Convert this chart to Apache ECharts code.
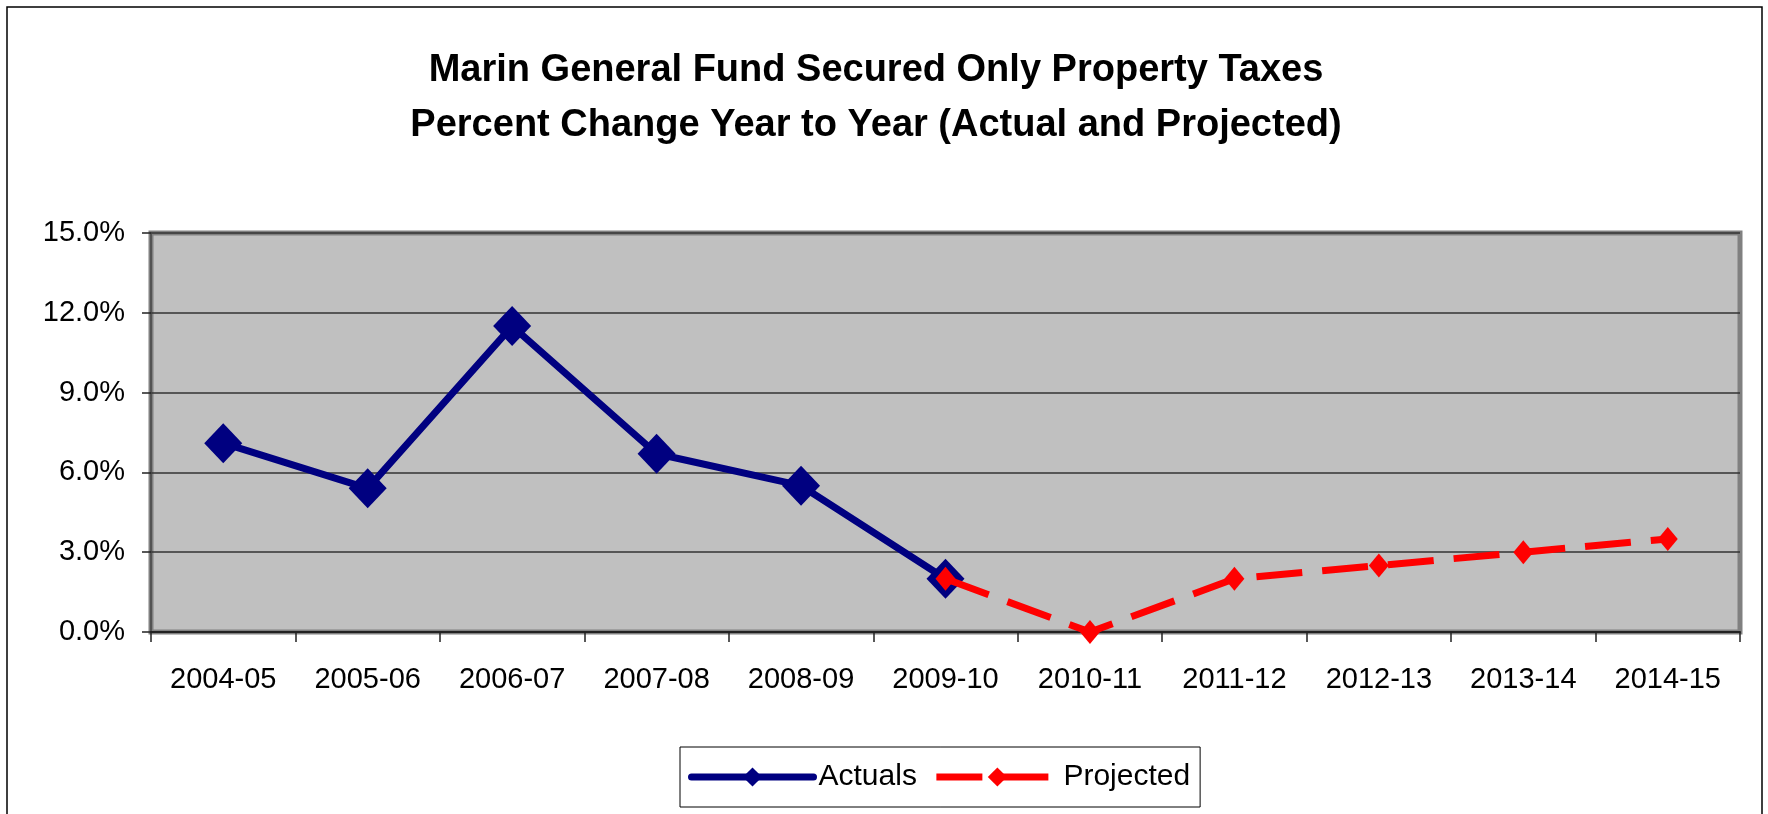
<!DOCTYPE html>
<html>
<head>
<meta charset="utf-8">
<script src="https://cdn.jsdelivr.net/npm/echarts@6/dist/echarts.min.js"></script>
<style>
  html, body { margin: 0; padding: 0; background: #fff; }
  #chart { width: 1768px; height: 814px; }
</style>
</head>
<body>
<div id="chart"></div>
<script>
// fiscal years on the x axis
var years = ["2004-05", "2005-06", "2006-07", "2007-08", "2008-09", "2009-10",
             "2010-11", "2011-12", "2012-13", "2013-14", "2014-15"];
// percent change, actual years
var actuals = [7.1, 5.4, 11.5, 6.7, 5.5, 2.0, null, null, null, null, null];
// percent change, projected years
var projected = [null, null, null, null, null, 2.0, 0.0, 2.0, 2.5, 3.0, 3.5];
var yTicks = [0, 3, 6, 9, 12, 15];

var font = "'Liberation Sans', Arial, sans-serif";

var myChart = echarts.init(document.getElementById("chart"));

var option = {
  animation: false,
  backgroundColor: "#fff",
  title: {
    text: "Marin General Fund Secured Only Property Taxes\nPercent Change Year to Year (Actual and Projected)",
    left: 871,
    textAlign: "center",
    top: 38,
    textStyle: {
      fontFamily: font,
      fontWeight: "bold",
      fontSize: 38,
      lineHeight: 55,
      color: "#000"
    }
  },
  graphic: [
    {
      type: "rect",
      silent: true,
      shape: { x: 7, y: 7, width: 1755, height: 840 },
      style: { fill: null, stroke: "#000", lineWidth: 1.5 }
    }
  ],
  legend: {
    left: 680,
    top: 747,
    padding: [15, 10, 15, 8],
    itemWidth: 122,
    itemHeight: 24,
    itemGap: 16,
    borderColor: "#000",
    borderWidth: 1,
    textStyle: { fontFamily: font, fontSize: 30, color: "#000" },
    data: [
      { name: "Actuals", lineStyle: { width: 7, color: "#000080", cap: "round" } },
      { name: "Projected", lineStyle: { width: 7, color: "#FF0000", type: [46, 20] } }
    ]
  },
  grid: {
    left: 151,
    right: 28,
    top: 233,
    bottom: 182,
    show: true,
    backgroundColor: "#C0C0C0",
    borderColor: "#808080",
    borderWidth: 5
  },
  xAxis: {
    type: "category",
    data: years,
    boundaryGap: true,
    axisLine: { lineStyle: { color: "#222", width: 2 } },
    axisTick: { show: true, length: 10, lineStyle: { color: "#222", width: 1.5 } },
    axisLabel: { margin: 33, fontFamily: font, fontSize: 29, color: "#000" },
    splitLine: { show: false }
  },
  yAxis: {
    type: "value",
    min: yTicks[0],
    max: yTicks[yTicks.length - 1],
    interval: 3,
    axisLine: { show: true, lineStyle: { color: "#444", width: 1.5 } },
    axisTick: { show: true, length: 9, lineStyle: { color: "#222", width: 1.5 } },
    axisLabel: {
      margin: 26,
      fontFamily: font,
      fontSize: 29,
      color: "#000",
      formatter: function (v) { return v.toFixed(1) + "%"; }
    },
    splitLine: { show: true, lineStyle: { color: "#333", width: 1.5 } }
  },
  series: [
    {
      name: "Actuals",
      type: "line",
      data: actuals,
      connectNulls: false,
      symbol: "diamond",
      symbolSize: [38, 40],
      itemStyle: { color: "#000080" },
      lineStyle: { color: "#000080", width: 7 },
      z: 2
    },
    {
      name: "Projected",
      type: "line",
      data: projected,
      connectNulls: false,
      symbol: "diamond",
      symbolSize: [20, 24],
      itemStyle: { color: "#FF0000" },
      lineStyle: { color: "#FF0000", width: 7, type: [46, 20] },
      z: 3
    }
  ]
};

myChart.setOption(option);
</script>
</body>
</html>
